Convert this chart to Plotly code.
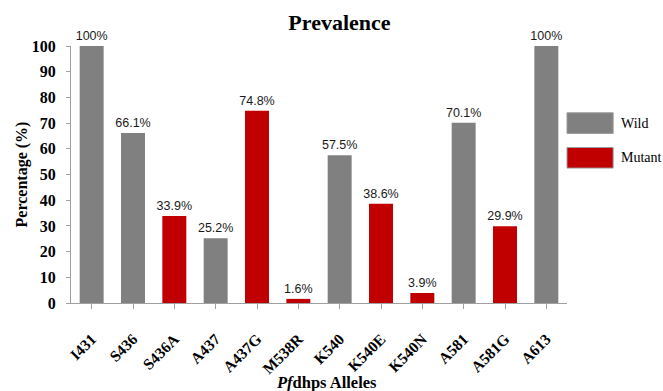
import plotly.graph_objects as go

alleles = ["I431", "S436", "S436A", "A437", "A437G", "M538R", "K540",
           "K540E", "K540N", "A581", "A581G", "A613"]
prevalence = [100, 66.1, 33.9, 25.2, 74.8, 1.6, 57.5, 38.6, 3.9, 70.1, 29.9, 100]
allele_type = ["Wild", "Wild", "Mutant", "Wild", "Mutant", "Mutant", "Wild",
               "Mutant", "Mutant", "Wild", "Mutant", "Wild"]
y_ticks = list(range(0, 101, 10))

colors = {"Wild": "#808080", "Mutant": "#C00000"}
serif = "Liberation Serif"

fig = go.Figure()
for group in ["Wild", "Mutant"]:
    xs = [a for a, t in zip(alleles, allele_type) if t == group]
    ys = [v for v, t in zip(prevalence, allele_type) if t == group]
    fig.add_trace(go.Bar(
        x=xs, y=ys, name=group,
        marker=dict(color=colors[group], line=dict(width=0)),
        texttemplate="%{y}%", textposition="outside", constraintext="none",
        textfont=dict(family="Liberation Sans", size=12.5, color="#1a1a1a"),
        cliponaxis=False, showlegend=False,
    ))

# legend drawn as swatches with labels to the right of the plot
legend_rows = [("Wild", 0.70), ("Mutant", 0.565)]
for name, yc in legend_rows:
    fig.add_shape(type="rect", xref="paper", yref="paper",
                  x0=1.0, x1=1.093, y0=yc - 0.04, y1=yc + 0.04,
                  fillcolor=colors[name], line=dict(color="#9a9a9a", width=1))
    fig.add_annotation(text=name, xref="paper", yref="paper", x=1.105, y=yc,
                       xanchor="left", yanchor="middle", showarrow=False,
                       font=dict(family=serif, size=14, color="black"))

# x-axis title placed near the bottom edge
fig.add_annotation(text="<b><i>Pf</i>dhps Alleles</b>", xref="paper", yref="paper",
                   x=0.515, y=-0.308, xanchor="center", yanchor="middle",
                   showarrow=False, font=dict(family=serif, size=16.5, color="black"))

fig.update_layout(
    width=663, height=391,
    margin=dict(l=71, r=96, t=46, b=88),
    paper_bgcolor="white", plot_bgcolor="white",
    barmode="overlay", bargap=0.42,
    title=dict(text="<b>Prevalence</b>", x=0.512, xanchor="center",
               y=0.943, yanchor="middle",
               font=dict(family=serif, size=22, color="black")),
    xaxis=dict(
        categoryorder="array", categoryarray=alleles, automargin=False,
        tickangle=-45, ticks="outside", ticklen=5,
        tickcolor="#a0a0a0", showline=True, linecolor="#a0a0a0",
        ticklabelstandoff=15,
        tickfont=dict(family=serif, size=15.5, color="black", weight="bold"),
    ),
    yaxis=dict(
        range=[0, 100], tickvals=y_ticks, ticks="outside", ticklen=4,
        tickcolor="#a0a0a0", showline=True, linecolor="#a0a0a0",
        showgrid=False, zeroline=False, automargin=False,
        ticklabelstandoff=7,
        tickfont=dict(family=serif, size=16, color="black", weight="bold"),
        title=dict(text="<b>Percentage (%)</b>", standoff=0,
                   font=dict(family=serif, size=16, color="black")),
    ),
)

fig.write_html("out.html")
